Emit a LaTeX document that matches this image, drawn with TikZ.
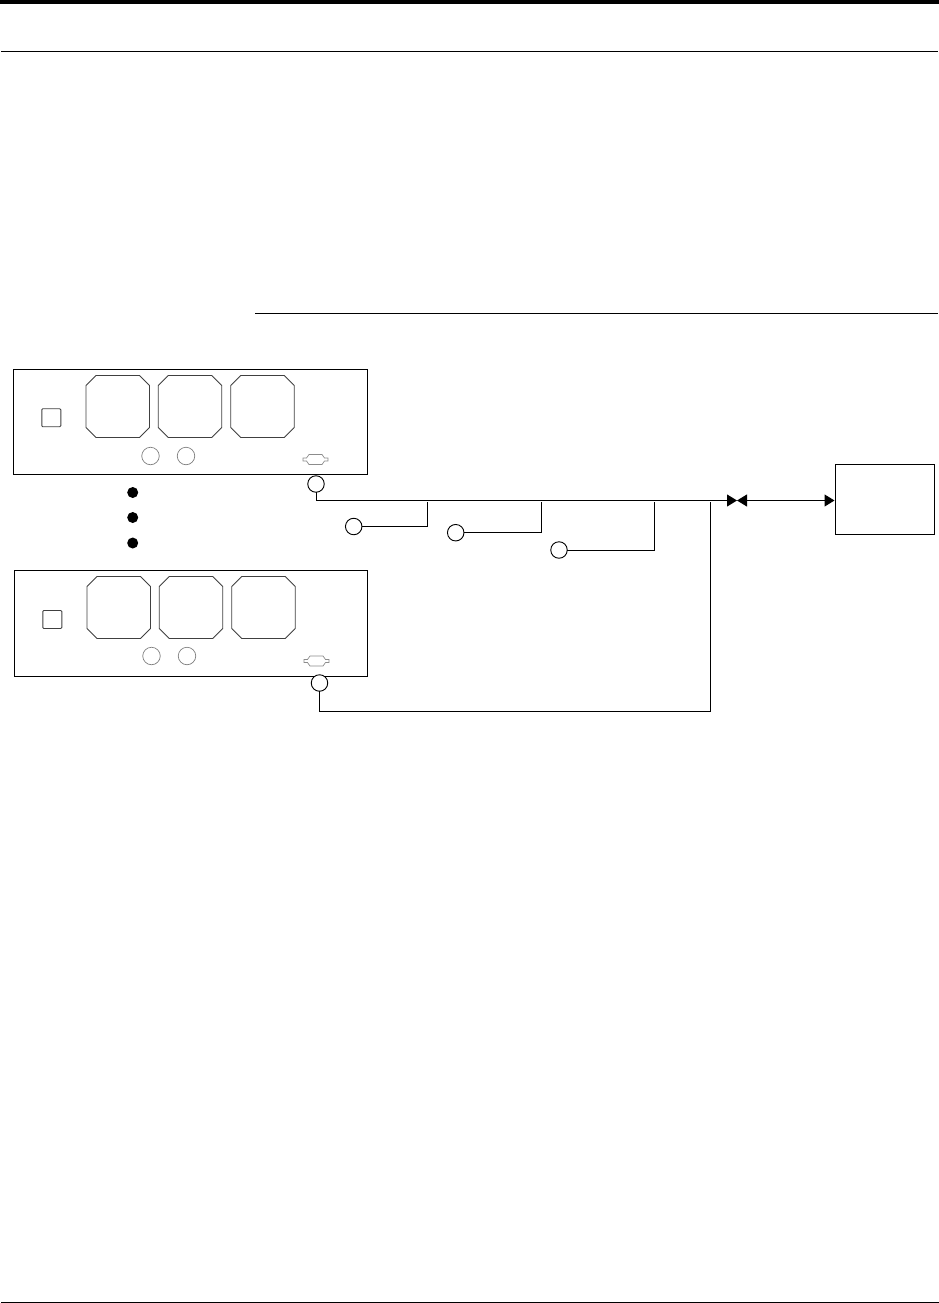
\documentclass[tikz,border=0pt]{standalone}
\usepackage{amsmath}
\usepackage{tikz}
\usetikzlibrary{positioning}
\usetikzlibrary{arrows.meta}

\tikzset{
    chassis/.style={draw, line width=1pt, rectangle, inner sep=0pt, outer sep=0pt, minimum width=354pt, minimum height=105pt},
    bay/.pic={
        \draw[black!75, line width=0.9pt] (-21.75,-31) -- (21.75,-31) -- (31.75,-21) -- (31.75,21) -- (21.75,31) -- (-21.75,31) -- (-31.75,21) -- (-31.75,-21) -- cycle;
    },
    dsub/.pic={
        \draw[black!45, line width=0.7pt] (-12.5,-1.5) -- (-9,-1.5) -- (-6.5,-5) -- (6.5,-5) -- (9,-1.5) -- (12.5,-1.5) -- (12.5,1.5) -- (9,1.5) -- (6.5,5) -- (-6.5,5) -- (-9,1.5) -- (-12.5,1.5) -- cycle;
    },
    switchbox/.style={draw=black!75, line width=0.9pt, rectangle, rounded corners=1pt, inner sep=0pt, outer sep=0pt, minimum width=19pt, minimum height=18pt},
    knob/.style={draw=black!50, line width=0.7pt, circle, inner sep=0pt, outer sep=0pt, minimum size=17.5pt},
    callout/.style={draw, line width=0.9pt, circle, fill=white, inner sep=0pt, outer sep=0pt, minimum size=16.5pt},
    dot/.style={fill, circle, inner sep=0pt, outer sep=0pt, minimum size=11pt},
    hostbox/.style={draw, line width=1pt, rectangle, inner sep=0pt, outer sep=0pt, minimum width=99pt, minimum height=70pt},
    wire/.style={line width=1pt},
    tip/.style={-{Triangle[length=10pt,width=12pt]}},
    bothtips/.style={{Triangle[length=10pt,width=12pt]}-{Triangle[length=10pt,width=12pt]}},
    rule/.style={line width=1pt}
}

\begin{document}
\begin{tikzpicture}[x=1pt,y=-1pt]
    \useasboundingbox (0,0) rectangle (939,1303);

    % Page rules
    \fill (0,0) rectangle (939,4);
    \draw[rule] (1,51.5) -- (938,51.5);
    \draw[rule] (255,313.5) -- (938,313.5);
    \draw[rule] (1,1302) -- (939,1302);

    % Nodes
    \node[chassis] (unita) at (190.5,422) {};
    \node[switchbox] (swa) at (51.3,417.7) {};
    \pic (baya) at (117.7,406.5) {bay};
    \pic (bayb) at (190,406.5) {bay};
    \pic (bayc) at (262.5,406.5) {bay};
    \node[knob] (knoba) at (150.5,456) {};
    \node[knob] (knobb) at (186,456) {};
    \pic (porta) at (315.5,459.5) {dsub};

    \node[dot] (dota) at (132.7,492.5) {};
    \node[dot] (dotb) at (132.7,517.5) {};
    \node[dot] (dotc) at (132.7,543) {};

    \node[chassis, minimum width=353pt, minimum height=106pt] (unitb) at (191,623.5) {};
    \node[switchbox] (swb) at (52.3,619.5) {};
    \pic (bayd) at (118.7,607.5) {bay};
    \pic (baye) at (191,607.5) {bay};
    \pic (bayf) at (263.5,607.5) {bay};
    \node[knob] (knobc) at (151.5,656) {};
    \node[knob] (knobd) at (187,656) {};
    \pic (portb) at (316.5,661) {dsub};

    \node[callout] (ca) at (316,484) {};
    \node[callout] (cb) at (353.7,526.5) {};
    \node[callout] (cc) at (455.7,532.7) {};
    \node[callout] (cd) at (559,550) {};
    \node[callout] (ce) at (319.5,683) {};

    \node[hostbox] (host) at (885,499.5) {};

    \coordinate (valve) at (737,500.5);
    \coordinate (tapa) at (427.5,502);
    \coordinate (tapb) at (541.3,502);
    \coordinate (tapc) at (654.5,502);
    \coordinate (tapd) at (710.5,502);
    \coordinate (low) at (710.5,711.5);

    % Edges
    \draw[wire,tip] (ca.south) |- (valve);
    \draw[wire,bothtips,shorten >=1pt] (valve) -- (valve -| host.west);

    \draw[wire] (cb.east) -| (tapa);
    \draw[wire] (cc.east) -| (tapb);
    \draw[wire] (cd.east) -| (tapc);
    \draw[wire] (ce.south) |- (low) -- (tapd);
\end{tikzpicture}
\end{document}
